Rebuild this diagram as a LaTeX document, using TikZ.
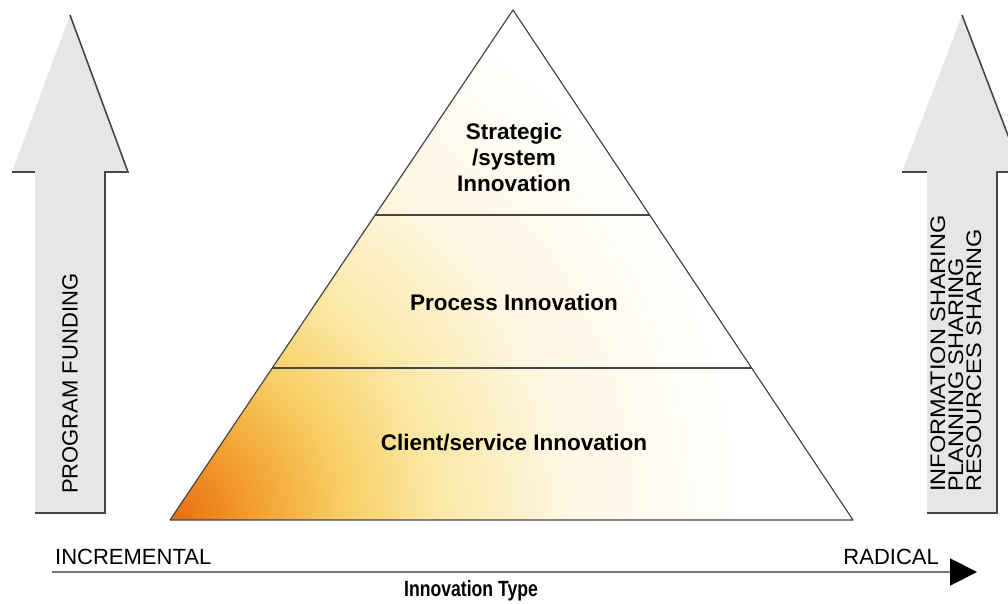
\documentclass[tikz,border=0pt]{standalone}
\usepackage{fontspec}
\setmainfont{Liberation Sans}
\newfontfamily\narrowfont[FakeStretch=0.80]{Liberation Sans}
\newfontfamily\widefont[FakeStretch=1.12]{Liberation Sans}
\usepackage{tikz}
\usetikzlibrary{arrows.meta,calc}

\definecolor{arrowgray}{RGB}{230,230,230}
\definecolor{edgegray}{RGB}{70,70,70}
\definecolor{axisgray}{RGB}{120,120,120}
\definecolor{deeporange}{RGB}{232,108,16}
\definecolor{midorange}{RGB}{243,158,48}
\definecolor{goldyellow}{RGB}{248,206,100}
\definecolor{paleyellow}{RGB}{251,232,165}
\definecolor{creamy}{RGB}{253,246,225}

\pgfdeclareradialshading{pyramidglow}{\pgfpoint{0bp}{0bp}}{%
  color(0bp)=(deeporange); color(3.6bp)=(midorange); color(7.5bp)=(goldyellow);
  color(11.5bp)=(paleyellow); color(17bp)=(creamy); color(25bp)=(white); color(50bp)=(white)}

\tikzset{
  levellabel/.style={font=\bfseries\fontsize{22.5}{26}\selectfont, align=center, inner sep=0pt},
  sidelabel/.style={rotate=90, anchor=west, align=left, inner sep=0pt},
  axislabel/.style={font=\fontsize{22}{24}\selectfont, inner sep=0pt},
  shadowedge/.style={draw=edgegray, line width=1.6pt},
}

\begin{document}
\begin{tikzpicture}[x=1pt,y=-1pt]
  \useasboundingbox (0,0) rectangle (1008,603);
  % Left arrow
  \fill[arrowgray] (35,513) -- (35,172) -- (12,172) -- (70,15) -- (128,172) -- (105,172) -- (105,513) -- cycle;
  \draw[shadowedge] (12,172) -- (35,172);
  \draw[shadowedge] (70,15) -- (128,172) -- (105,172) -- (105,513) -- (35,513);
  \node[sidelabel, font=\fontsize{22}{24}\selectfont] (funding) at (70,494) {PROGRAM FUNDING};
  % Right arrow
  \begin{scope}
    \clip (0,0) rectangle (1008,603);
    \fill[arrowgray] (927,513) -- (927,172) -- (902,172) -- (962,15) -- (1022,172) -- (997,172) -- (997,513) -- cycle;
    \draw[shadowedge] (902,172) -- (927,172);
    \draw[shadowedge] (962,15) -- (1022,172) -- (997,172) -- (997,513) -- (927,513);
  \end{scope}
  \node[sidelabel, font=\widefont\fontsize{21}{18}\selectfont] (sharing) at (956,492) {INFORMATION SHARING\\PLANNING SHARING\\RESOURCES SHARING};
  % Pyramid
  \coordinate (apex) at (513,10);
  \coordinate (bl) at (170,520);
  \coordinate (br) at (853,520);
  \begin{scope}
    \clip (apex) -- (bl) -- (br) -- cycle;
    \shade[shading=pyramidglow] (bl) circle (580);
  \end{scope}
  \draw[edgegray, line width=1.2pt, line join=round] (apex) -- (bl) -- (br) -- cycle;
  \draw[edgegray, line width=1.5pt] ($(bl)!0.298!(apex)$) -- ($(br)!0.298!(apex)$);
  \draw[edgegray, line width=1.5pt] ($(bl)!0.598!(apex)$) -- ($(br)!0.598!(apex)$);
  \node[levellabel] (strategic) at (514,157) {Strategic\\/system\\Innovation};
  \node[levellabel] (process) at (514,302) {Process Innovation};
  \node[levellabel] (client) at (514,443) {Client/service Innovation};
  % Innovation axis
  \coordinate (axstart) at (52,572);
  \coordinate (axend) at (977,572);
  \draw[axisgray, line width=2pt, -{Triangle[color=black, length=27pt, width=27pt]}] (axstart) -- (axend);
  \node[axislabel, anchor=west] (incremental) at (55,557) {INCREMENTAL};
  \node[axislabel, anchor=east] (radical) at (939,557) {RADICAL};
  \node[axislabel, font=\narrowfont\bfseries\fontsize{22}{24}\selectfont] (innotype) at (471,591) {Innovation Type};
\end{tikzpicture}
\end{document}
